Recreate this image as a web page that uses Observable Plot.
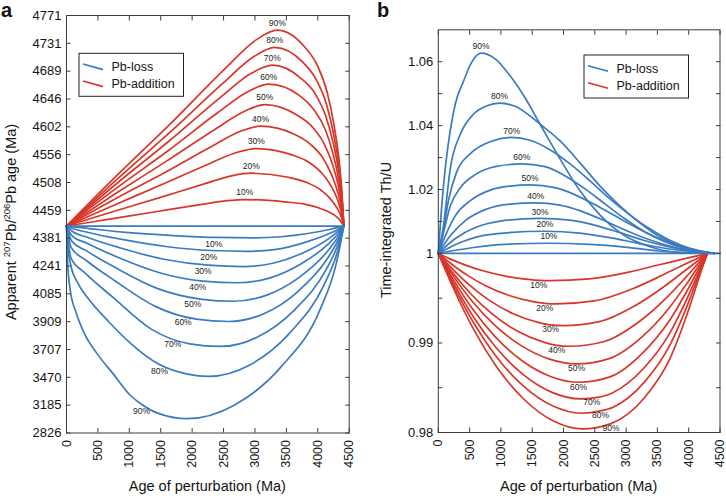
<!DOCTYPE html>
<html><head><meta charset="utf-8">
<script src="https://cdn.jsdelivr.net/npm/d3@7"></script>
<script src="https://cdn.jsdelivr.net/npm/@observablehq/plot@0.6"></script>
<style>
html,body{margin:0;padding:0;background:#fff;}
#fig{position:relative;width:726px;height:496px;overflow:hidden;background:#fff;}
#fig svg{position:absolute;top:0;overflow:visible;}
</style></head><body><div id="fig"></div>
<script>
// ---------- shared ----------
const levels = ["10%","20%","30%","40%","50%","60%","70%","80%","90%"];
const xTicks = [0,500,1000,1500,2000,2500,3000,3500,4000,4500];

// ---------- panel a : apparent 207Pb/206Pb age (Ma) ----------
const ageTicks = [2826,3185,3470,3707,3909,4085,4241,4381,4459,4508,4556,4602,4646,4689,4731,4771];
const aFlatX = [0, 4415];
const aFlatY = [4415, 4415];
// Pb-addition (red)
const aAddX = [
  [0,710,1420,2129,2555,2839,3469,3785,4021,4179,4305,4368,4415],
  [0,735,1470,2205,2646,2940,3530,3825,4046,4194,4312,4371,4415],
  [0,755,1510,2265,2718,3020,3578,3857,4066,4206,4317,4373,4415],
  [0,772,1544,2316,2779,3088,3619,3884,4083,4216,4322,4375,4415],
  [0,789,1579,2368,2841,3157,3660,3912,4101,4226,4327,4377,4415],
  [0,805,1611,2416,2899,3221,3699,3937,4117,4236,4331,4379,4415],
  [0,819,1638,2456,2948,3275,3731,3959,4130,4244,4335,4381,4415],
  [0,829,1658,2487,2984,3316,3756,3975,4140,4250,4338,4382,4415],
  [0,839,1677,2516,3019,3354,3778,3991,4150,4256,4341,4383,4415]
];
const aAddY = [
  [4415,4435,4455,4469,4476,4478,4474,4470,4463,4454,4440,4428,4415],
  [4415,4455,4481,4506,4520,4524,4517,4508,4495,4480,4462,4442,4415],
  [4415,4468,4504,4540,4560,4566,4556,4543,4524,4503,4477,4454,4415],
  [4415,4479,4524,4570,4595,4603,4590,4573,4550,4522,4489,4463,4415],
  [4415,4489,4544,4598,4627,4637,4621,4602,4574,4542,4502,4470,4415],
  [4415,4499,4562,4625,4658,4669,4652,4629,4598,4560,4514,4476,4415],
  [4415,4508,4579,4649,4686,4698,4678,4654,4618,4576,4525,4482,4415],
  [4415,4516,4594,4670,4711,4725,4703,4676,4637,4591,4534,4488,4415],
  [4415,4524,4609,4692,4736,4750,4727,4698,4656,4606,4544,4493,4415]
];
// Pb-loss (blue)
const aLossX = [
  [0,90,358,895,1640,2386,2982,3412,3842,4200,4343,4415],
  [0,86,345,863,1583,2302,2877,3339,3799,4184,4338,4415],
  [0,85,339,847,1553,2258,2823,3301,3778,4176,4335,4415],
  [0,82,326,815,1495,2175,2718,3227,3736,4160,4330,4415],
  [0,80,319,799,1464,2130,2663,3188,3715,4152,4327,4415],
  [0,78,310,775,1421,2067,2584,3133,3683,4140,4323,4415],
  [0,74,294,736,1349,1962,2452,3041,3630,4121,4317,4415],
  [0,23,68,181,340,680,1020,1472,1925,2265,2910,3555,4093,4308,4415],
  [0,20,58,154,288,481,750,1018,1192,1441,1922,2670,3418,4041,4290,4415]
];
const aLossY = [
  [4415,4413,4408,4398,4389,4383,4382,4385,4394,4406,4412,4415],
  [4415,4409,4397,4376,4339,4319,4315,4325,4360,4394,4407,4415],
  [4415,4401,4383,4333,4275,4245,4238,4256,4309,4379,4402,4415],
  [4415,4389,4355,4285,4202,4156,4147,4173,4252,4350,4395,4415],
  [4415,4368,4317,4228,4113,4052,4038,4077,4180,4314,4386,4415],
  [4415,4332,4270,4157,4004,3925,3910,3958,4098,4272,4371,4415],
  [4415,4279,4202,4064,3855,3748,3729,3798,3984,4214,4345,4415],
  [4415,4336,4246,4145,4058,3905,3752,3581,3498,3478,3573,3828,4131,4308,4415],
  [4415,4248,4109,3966,3820,3676,3495,3284,3195,3086,3011,3185,3561,3990,4248,4415]
];
// where along each Pb-loss curve its label sits (Ma)
const aLossLabelX = [2345,2264,2175,2090,2010,1857,1692,1480,1194];

// ---------- panel b : time-integrated Th/U ----------
const thuTicks = [0.98,0.99,1,1.02,1.04,1.06];
const thuMinor = [0.985,0.995,1.01,1.03,1.05];
const bFlatX = [0, 4500];
const bFlatY = [1, 1];
// Pb-loss (blue)
const bLossX = [
  [0,512,988,1767,2418,2975,3531,4415],
  [0,353,750,1703,2260,2736,3213,3690,4415],
  [0,273,591,988,1624,2101,2498,2895,3292,3690,4007,4415],
  [0,194,432,750,1147,1556,1942,2260,2577,2895,3213,3531,3849,4415],
  [0,114,273,512,829,1147,1465,1862,2180,2498,2816,3134,3451,3769,4087,4415],
  [0,83,194,353,591,909,1333,1703,2021,2339,2657,2975,3292,3610,3928,4415],
  [0,67,162,289,512,829,1174,1465,1783,2101,2418,2736,3054,3372,3690,4007,4415],
  [0,83,194,353,564,777,977,1227,1624,1942,2260,2577,2895,3213,3531,3849,4166,4415],
  [0,43,99,167,273,405,528,682,909,1147,1386,1624,1942,2260,2577,2975,3372,3769,4415]
];
const bLossY = [
  [1,1.00169,1.00278,1.00319,1.00284,1.002,1.00075,1],
  [1,1.00341,1.00575,1.00694,1.00638,1.00497,1.00309,1.00138,1],
  [1,1.00466,1.00809,1.01013,1.011,1.01044,1.00888,1.00653,1.00403,1.002,1.00091,1],
  [1,1.00559,1.01028,1.01372,1.01544,1.01581,1.01513,1.01341,1.01091,1.00809,1.00544,1.00325,1.00153,1],
  [1,1.00559,1.01184,1.01653,1.01981,1.02106,1.02144,1.02059,1.01841,1.01528,1.01184,1.00841,1.00528,1.00278,1.00106,1],
  [1,1.00653,1.01497,1.02059,1.02466,1.02716,1.028,1.02716,1.02434,1.02028,1.01559,1.01091,1.00684,1.00372,1.00153,1],
  [1,1.00559,1.01653,1.02528,1.03122,1.03497,1.03631,1.03544,1.03247,1.02809,1.02278,1.01716,1.01216,1.00778,1.00419,1.00169,1],
  [1,1.00872,1.02694,1.03738,1.04363,1.04622,1.04706,1.04606,1.0405,1.03528,1.02841,1.02122,1.01497,1.00966,1.00528,1.00247,1.00075,1],
  [1,1.01184,1.02434,1.03528,1.04684,1.05403,1.05966,1.06269,1.06091,1.05559,1.04872,1.0405,1.02966,1.01966,1.01216,1.00559,1.00216,1.00044,1]
];
// Pb-addition (red)
const bAddX = [
  [0,178,446,713,1070,1426,1605,1783,2412,3042,3545,3922,4174,4300],
  [0,189,472,756,1133,1511,1700,1889,2492,3095,3577,3938,4179,4300],
  [0,199,499,798,1196,1595,1795,1994,2571,3147,3608,3954,4185,4300],
  [0,210,525,840,1261,1681,1891,2101,2651,3201,3640,3970,4190,4300],
  [0,221,552,883,1324,1766,2207,2730,3254,3672,3986,4195,4300],
  [0,224,560,896,1344,1792,2240,2755,3270,3682,3991,4197,4300],
  [0,227,568,908,1362,1816,2270,2453,2778,3285,3691,3996,4199,4300],
  [0,229,573,916,1374,1832,2290,2592,2793,3295,3697,3999,4200,4300],
  [0,230,575,920,1380,1840,2300,2760,3300,3700,4000,4200,4300]
];
const bAddY = [
  [1,.99942,.99867,.99806,.99747,.99711,.997,.99697,.99715,.99791,.99876,.99939,.99979,1],
  [1,.99893,.99752,.9964,.9953,.99462,.99443,.99437,.99469,.99603,.99756,.99879,.99958,1],
  [1,.99847,.99645,.99484,.99327,.9923,.99202,.99194,.99238,.99418,.99631,.99815,.99938,1],
  [1,.99803,.99544,.99336,.99134,.9901,.98973,.98963,.99016,.99234,.99501,.99746,.99916,1],
  [1,.99766,.99457,.9921,.9897,.98822,.98766,.98825,.99068,.99377,.99679,.99895,1],
  [1,.99727,.99367,.99079,.98798,.98626,.98561,.98624,.98891,.99239,.99604,.99872,1],
  [1,.99691,.99285,.9896,.98643,.98448,.98375,.98383,.98442,.9872,.99102,.99529,.9985,1],
  [1,.99661,.99215,.98858,.98509,.98295,.98215,.98242,.98283,.98565,.98972,.99456,.99829,1],
  [1,.99628,.99138,.98746,.98363,.98128,.9804,.98099,.98393,.98824,.99373,.99804,1]
];
const bAddLabelAt = [6,6,6,6,6,6,7,7,7];

// ---------- helpers ----------
const BLUE = "#3b7bbf", RED = "#d8362a", AXIS = "#3c3c3c", INK = "#141414";
const FONT = "'Liberation Sans', Arial, Helvetica, sans-serif";
const W = 363, H = 496;

function rows(xs, ys, tag) {
  const out = [];
  xs.forEach((xr, k) => xr.forEach((x, i) => out.push({x, y: ys[k][i], s: tag + k})));
  return out;
}
function labelRows(xs, ys, at) {
  return levels.map((t, k) => { const i = at(k); return {x: xs[k][i], y: ys[k][i], t}; });
}
// label anchored on a curve at a given x (position)
function labelOnCurve(xs, ys, lx) {
  return levels.map((t, k) => {
    const xr = xs[k], yr = ys[k];
    const i = Math.max(0, d3.bisectRight(xr, lx[k]) - 1);
    const f = (lx[k] - xr[i]) / (xr[i + 1] - xr[i]);
    return {x: lx[k], y: yr[i] + f * (yr[i + 1] - yr[i]), t};
  });
}
function frameAxes(xt, yt, yFmt, yMinor) {
  return [
    Plot.frame({stroke: AXIS, strokeWidth: 1}),
    Plot.axisX(xt, {anchor: "bottom", tickSize: 0, tickPadding: 7, tickRotate: -90, tickFormat: d => String(d), fontSize: 12.5, fill: INK, label: null}),
    Plot.axisX(xt, {anchor: "bottom", tickSize: -4.5, stroke: AXIS, tickFormat: () => "", label: null}),
    Plot.axisX(xt, {anchor: "top", tickSize: -4.5, stroke: AXIS, tickFormat: () => "", label: null}),
    Plot.axisY(yt, {anchor: "left", tickSize: 0, tickPadding: 5, tickFormat: yFmt, fontSize: 13, fill: INK, label: null}),
    Plot.axisY(yt.concat(yMinor), {anchor: "left", tickSize: -4.5, stroke: AXIS, tickFormat: () => "", label: null}),
    Plot.axisY(yt.concat(yMinor), {anchor: "right", tickSize: -4.5, stroke: AXIS, tickFormat: () => "", label: null})
  ];
}
function legend(svg, bx, by) {
  const g = d3.select(svg).append("g").attr("font-family", FONT).attr("font-size", 12.5)
    .attr("fill", INK).attr("text-anchor", "start");
  g.append("rect").attr("x", bx).attr("y", by).attr("width", 104.5).attr("height", 43)
    .attr("fill", "#fff").attr("stroke", "#222").attr("stroke-width", 1);
  [[BLUE, "Pb-loss", 13.5], [RED, "Pb-addition", 30.5]].forEach(([c, t, yy]) => {
    g.append("line").attr("x1", bx + 4).attr("x2", bx + 24).attr("y1", by + yy - 2.8).attr("y2", by + yy + 2.8)
      .attr("stroke", c).attr("stroke-width", 1.7);
    g.append("text").attr("x", bx + 32.5).attr("y", by + yy).attr("dy", "0.36em").attr("text-anchor", "start").text(t);
  });
}

// ---------- panel a ----------
const aTop = 15, aBottom = 432.5;
const aRange = ageTicks.map((_, i) => aBottom - i * (aBottom - aTop) / (ageTicks.length - 1));
const plotA = Plot.plot({
  width: W, height: H,
  marginLeft: 66, marginRight: 14.3, marginTop: aTop, marginBottom: H - aBottom,
  style: {fontFamily: FONT, fontSize: "13px", color: INK, background: "transparent", overflow: "visible"},
  x: {domain: [0, 4500], label: null},
  y: {type: "linear", domain: ageTicks, range: aRange, label: null},
  marks: [
    Plot.line(rows(aAddX, aAddY, "r"), {x: "x", y: "y", z: "s", stroke: RED, strokeWidth: 1.7, curve: "monotone-x"}),
    Plot.line(rows(aLossX, aLossY, "b"), {x: "x", y: "y", z: "s", stroke: BLUE, strokeWidth: 1.7, curve: "monotone-x"}),
    Plot.line(aFlatX.map((x, i) => ({x, y: aFlatY[i]})), {x: "x", y: "y", stroke: BLUE, strokeWidth: 1.7}),
    Plot.text(labelRows(aAddX, aAddY, k => d3.maxIndex(aAddY[k])), {x: "x", y: "y", text: "t", dy: -7, fontSize: 8.5, fill: "#222"}),
    Plot.text(labelOnCurve(aLossX, aLossY, aLossLabelX), {x: "x", y: "y", text: "t", dy: 7, fontSize: 8.5, fill: "#222"}),
    ...frameAxes(xTicks, ageTicks, d => String(d), [])
  ]
});
plotA.style.left = "0px";

// ---------- panel b ----------
const bTop = 29.3, bBottom = 432;
const plotB = Plot.plot({
  width: W, height: H,
  marginLeft: 74.8, marginRight: 6.5, marginTop: bTop, marginBottom: H - bBottom,
  style: {fontFamily: FONT, fontSize: "13px", color: INK, background: "transparent", overflow: "visible"},
  x: {domain: [0, 4500], label: null},
  y: {type: "linear", domain: [0.98, 1, 1.07], range: [bBottom, bBottom - (bBottom - bTop) * 0.4447, bTop], label: null},
  marks: [
    Plot.line(rows(bAddX, bAddY, "r"), {x: "x", y: "y", z: "s", stroke: RED, strokeWidth: 1.7, curve: "monotone-x"}),
    Plot.line(rows(bLossX, bLossY, "b"), {x: "x", y: "y", z: "s", stroke: BLUE, strokeWidth: 1.7, curve: "monotone-x"}),
    Plot.line(bFlatX.map((x, i) => ({x, y: bFlatY[i]})), {x: "x", y: "y", stroke: BLUE, strokeWidth: 1.7}),
    Plot.text(labelRows(bLossX, bLossY, k => d3.maxIndex(bLossY[k])), {x: "x", y: "y", text: "t", dy: -6.5, fontSize: 8.5, fill: "#222"}),
    Plot.text(labelRows(bAddX, bAddY, k => bAddLabelAt[k]), {x: "x", y: "y", text: "t", dy: 4.5, fontSize: 8.5, fill: "#222"}),
    ...frameAxes(xTicks, thuTicks, d => String(+d.toFixed(2)), thuMinor)
  ]
});
plotB.style.left = "363px";

const fig = document.getElementById("fig");
fig.appendChild(plotA);
fig.appendChild(plotB);

// ---------- titles, panel letters, legends ----------
function addText(svg, x, y, txt, opts = {}) {
  const t = d3.select(svg).append("text").attr("x", x).attr("y", y)
    .attr("font-family", FONT).attr("font-size", opts.size || 14.5).attr("fill", INK)
    .attr("text-anchor", opts.anchor || "middle");
  if (opts.weight) t.attr("font-weight", opts.weight);
  if (opts.rotate) t.attr("transform", `rotate(${opts.rotate},${x},${y})`);
  if (opts.dy) t.attr("dy", opts.dy);
  t.text(txt);
  return t;
}
// panel a
addText(plotA, 1, 17, "a", {size: 20, weight: "bold", anchor: "start"});
addText(plotA, (66 + 348.7) / 2, 491, "Age of perturbation (Ma)");
{
  const x = 11, y = 222;
  const t = d3.select(plotA).append("text").attr("x", x).attr("y", y).attr("dy", "0.35em")
    .attr("font-family", FONT).attr("font-size", 14.5).attr("fill", INK).attr("text-anchor", "middle")
    .attr("transform", `rotate(-90,${x},${y})`);
  t.append("tspan").text("Apparent ");
  t.append("tspan").attr("font-size", 9.5).attr("dy", -6).text("207");
  t.append("tspan").attr("dy", 6).text("Pb/");
  t.append("tspan").attr("font-size", 9.5).attr("dy", -6).text("206");
  t.append("tspan").attr("dy", 6).text("Pb age (Ma)");
}
legend(plotA, 79, 53.3);
// panel b
addText(plotB, 14, 17, "b", {size: 20, weight: "bold", anchor: "start"});
addText(plotB, (74.8 + 356.5) / 2, 491, "Age of perturbation (Ma)");
addText(plotB, 23, 230, "Time-integrated Th/U", {rotate: -90, dy: "0.35em"});
legend(plotB, 221, 55);
</script></body></html>
